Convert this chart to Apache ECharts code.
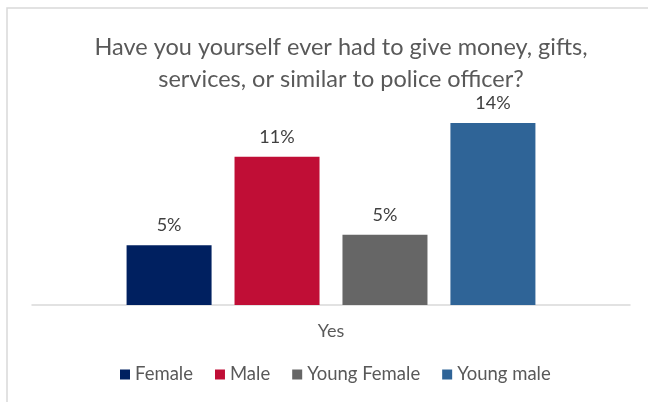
<!DOCTYPE html>
<html>
<head>
<meta charset="utf-8">
<script src="https://cdn.jsdelivr.net/npm/echarts@6/dist/echarts.min.js"></script>
<style>
  html, body { margin: 0; padding: 0; background: #fff; }
  #chart { width: 648px; height: 402px; }
</style>
</head>
<body>
<div id="chart"></div>
<script>
// Survey answer shown on the category axis
const categories = ['Yes'];
// Respondent groups and their shares (percent)
const groups = ['Female', 'Male', 'Young Female', 'Young male'];
const shares = [4.6, 11.4, 5.4, 14.0];
const groupColors = ['#002060', '#c00e36', '#666666', '#2f6497'];

const FONT = 'Lato, "Open Sans", sans-serif';

const chart = echarts.init(document.getElementById('chart'));

const series = groups.map((name, i) => ({
  name: name,
  type: 'bar',
  data: [shares[i]],
  barWidth: 85,
  barGap: '27%',
  itemStyle: { color: groupColors[i] },
  label: {
    show: true,
    position: 'top',
    distance: 11,
    color: '#404040',
    fontFamily: FONT,
    fontSize: 18,
    formatter: p => Math.round(p.value) + '%'
  }
}));

chart.setOption({
  animation: false,
  backgroundColor: '#ffffff',
  title: {
    text: 'Have you yourself ever had to give money, gifts,\nservices, or similar to police officer?',
    left: 336,
    textAlign: 'center',
    top: 26,
    textStyle: {
      color: '#595959',
      fontFamily: FONT,
      fontWeight: 'normal',
      fontSize: 23.5,
      lineHeight: 32
    }
  },
  legend: {
    data: groups,
    bottom: 13,
    left: 115,
    itemWidth: 10,
    itemHeight: 10,
    itemGap: 22,
    icon: 'rect',
    textStyle: { color: '#595959', fontFamily: FONT, fontSize: 18.5 }
  },
  grid: { left: 32, right: 18, top: 97, bottom: 97 },
  xAxis: {
    type: 'category',
    data: categories,
    axisLine: { lineStyle: { color: '#d9d9d9', width: 1.5 } },
    axisTick: { show: false },
    axisLabel: { color: '#595959', fontFamily: FONT, fontSize: 18, margin: 17 }
  },
  yAxis: {
    type: 'value',
    min: 0,
    max: 16,
    show: false
  },
  graphic: [{
    type: 'rect',
    shape: { x: 7, y: 8, width: 700, height: 500 },
    style: { fill: 'none', stroke: '#d9d9d9', lineWidth: 1.5 },
    silent: true
  }],
  series: series
});
</script>
</body>
</html>
